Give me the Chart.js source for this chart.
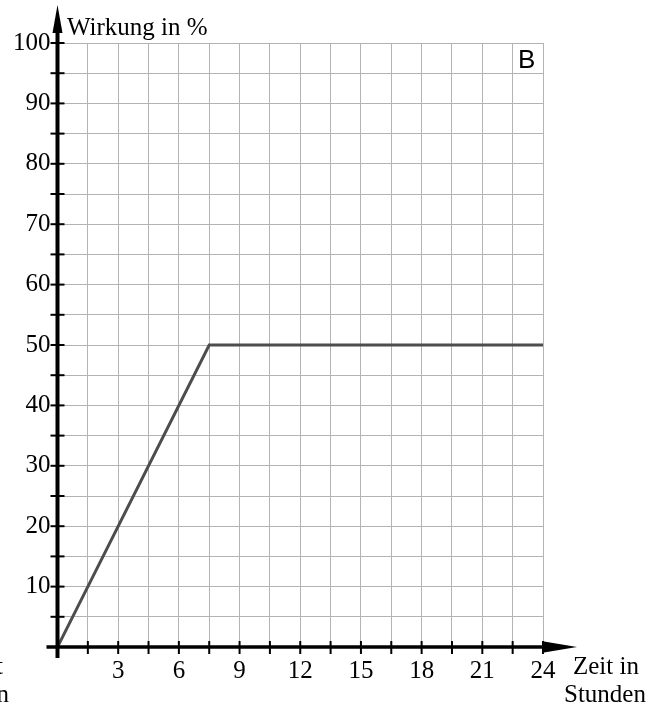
<!DOCTYPE html>
<html>
<head>
<meta charset="utf-8">
<script src="https://cdn.jsdelivr.net/npm/chart.js@4"></script>
<style>
  html, body { margin: 0; padding: 0; background: #fff; }
  #wrap { position: relative; width: 663px; height: 708px; }
</style>
</head>
<body>
<div id="wrap"><canvas id="myChart" width="663" height="708"></canvas></div>
<script>
// Zeit (Stunden) und Wirkung (%)
const zeit = [0, 7.5, 24];
const wirkung = [0, 50, 50];
const xTicksBeschriftet = [3, 6, 9, 12, 15, 18, 21, 24];
const yTicksBeschriftet = [10, 20, 30, 40, 50, 60, 70, 80, 90, 100];

const serif = "'Liberation Serif', 'Times New Roman', serif";

// Achsen mit Pfeilen und Strichen, Beschriftungen
const achsenPlugin = {
  id: "achsen",
  afterDraw(chart) {
    const ctx = chart.ctx;
    const xs = chart.scales.x, ys = chart.scales.y;
    const x0 = xs.getPixelForValue(0), y0 = ys.getPixelForValue(0);
    const xEnd = xs.getPixelForValue(24);
    ctx.save();
    ctx.strokeStyle = "#000";
    ctx.fillStyle = "#000";
    // y-Achse
    ctx.lineWidth = 4;
    ctx.beginPath();
    ctx.moveTo(x0, y0 + 11);
    ctx.lineTo(x0, 30);
    ctx.stroke();
    ctx.beginPath();
    ctx.moveTo(x0, 5);
    ctx.lineTo(x0 - 5, 33);
    ctx.lineTo(x0 + 5, 33);
    ctx.closePath();
    ctx.fill();
    // x-Achse
    ctx.lineWidth = 3.5;
    ctx.beginPath();
    ctx.moveTo(x0 - 11, y0);
    ctx.lineTo(xEnd + 10, y0);
    ctx.stroke();
    ctx.beginPath();
    ctx.moveTo(577, y0);
    ctx.lineTo(544, y0 - 5.5);
    ctx.lineTo(544, y0 + 5.5);
    ctx.closePath();
    ctx.fill();
    // Striche
    ctx.lineWidth = 2;
    for (let v = 5; v <= 100; v += 5) {
      const py = ys.getPixelForValue(v);
      ctx.beginPath();
      ctx.moveTo(x0 - 7, py);
      ctx.lineTo(x0 + 7, py);
      ctx.stroke();
    }
    for (let v = 1.5; v <= 24; v += 1.5) {
      const px = xs.getPixelForValue(v);
      ctx.beginPath();
      ctx.moveTo(px, y0 - 6);
      ctx.lineTo(px, y0 + 7);
      ctx.stroke();
    }
    // Texte
    ctx.font = "25px " + serif;
    ctx.textBaseline = "alphabetic";
    ctx.textAlign = "left";
    ctx.fillText("Wirkung in %", 67, 35);
    ctx.fillText("Zeit in", 573, 674);
    ctx.fillText("Stunden", 564, 702);
    ctx.textAlign = "right";
    ctx.fillText("Einnahmezeitpunkt", 3, 674);
    ctx.fillText("Einnahmebeginn", 9, 702);
    ctx.font = "26px 'Liberation Sans', Arial, sans-serif";
    ctx.textAlign = "left";
    ctx.fillText("B", 518, 68);
    ctx.restore();
  }
};

const config = {
  type: "line",
  data: {
    datasets: [{
      data: zeit.map((z, i) => ({ x: z, y: wirkung[i] })),
      borderColor: "#4d4d4d",
      borderWidth: 3,
      pointRadius: 0,
      tension: 0
    }]
  },
  options: {
    responsive: false,
    animation: false,
    plugins: { legend: { display: false }, tooltip: { enabled: false } },
    layout: { padding: { left: 0, top: 43, right: 120, bottom: 26 } },
    scales: {
      x: {
        type: "linear",
        min: 0, max: 24,
        afterFit: (s) => { s.height = 35; },
        grid: { color: "#b3b3b3", lineWidth: 1, drawTicks: false },
        border: { display: false },
        ticks: {
          stepSize: 1.5,
          padding: 9,
          color: "#000",
          font: { family: serif, size: 25 },
          maxRotation: 0,
          autoSkip: false,
          callback: (v) => xTicksBeschriftet.includes(v) ? String(v) : ""
        }
      },
      y: {
        min: 0, max: 100,
        afterFit: (s) => { s.width = 57.5; },
        grid: { color: "#b3b3b3", lineWidth: 1, drawTicks: false },
        border: { display: false },
        ticks: {
          stepSize: 5,
          padding: 7,
          color: "#000",
          font: { family: serif, size: 25 },
          autoSkip: false,
          callback: (v) => yTicksBeschriftet.includes(v) ? String(v) : ""
        }
      }
    }
  },
  plugins: [achsenPlugin]
};

const myChart = new Chart(document.getElementById("myChart"), config);
</script>
</body>
</html>
